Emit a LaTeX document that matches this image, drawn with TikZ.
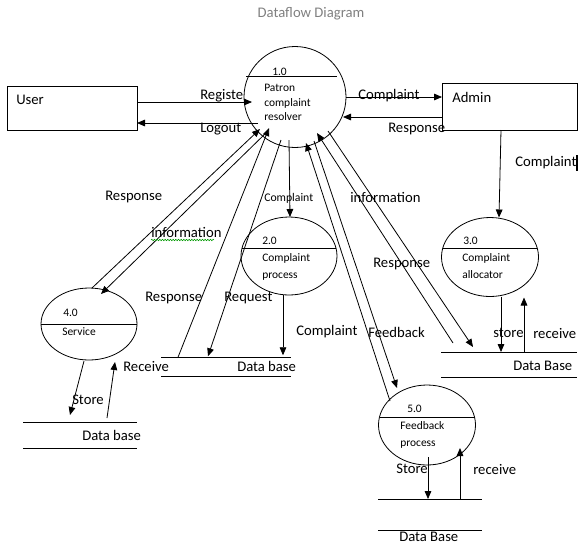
\documentclass[tikz,border=0pt]{standalone}
\usepackage{fontspec}
\setmainfont{Carlito}
\usepackage{xcolor}
\usepackage{tikz}
\usetikzlibrary{calc}
\usetikzlibrary{arrows.meta,shapes.geometric,decorations.pathmorphing}
\tikzset{proc/.style={draw, ellipse, line width=0.6pt, inner sep=0pt, outer sep=0pt}}
\tikzset{ent/.style={draw, rectangle, line width=0.6pt, inner sep=0pt, outer sep=0pt}}
\tikzset{dstore/.style={inner sep=0pt, outer sep=0pt}}
\tikzset{flow/.style={line width=0.6pt, -{Triangle[length=6pt,width=5pt]}}}
\tikzset{lab/.style={inner sep=0pt, anchor=west, font=\fontsize{11}{13}\selectfont}}
\tikzset{slab/.style={inner sep=0pt, anchor=west, align=left, font=\fontsize{8.6}{12.75}\selectfont}}

\begin{document}
\begin{tikzpicture}[x=0.75pt, y=-0.75pt]
		\useasboundingbox (0,0) rectangle (582,551);
		\node[inner sep=0pt, text=black!50, font=\fontsize{11}{13}\selectfont] (title) at (311,14) {Dataflow Diagram};
		
		% external entities
		\node[ent, minimum width=97.5pt, minimum height=33pt] (user) at (72,108) {};
		\node[ent, minimum width=101.25pt, minimum height=35.25pt] (admin) at (509.5,106.5) {};
		\node[lab] (luser) at (16,100) {User};
		\node[lab] (ladmin) at (452,97) {Admin};
		
		% processes
		\node[proc, minimum width=76.5pt, minimum height=75.75pt] (p1) at (295,97) {};
		\node[proc, minimum width=72pt, minimum height=58.5pt] (p2) at (289,256) {};
		\node[proc, minimum width=72.75pt, minimum height=59.25pt] (p3) at (490,257) {};
		\node[proc, minimum width=72pt, minimum height=54pt] (p4) at (89,324) {};
		\node[proc, minimum width=72.75pt, minimum height=60pt] (p5) at (427,425) {};
		\draw[line width=0.6pt] ($(p1.center)+(-49,-21)$) --++(91,0) ($(p2.center)+(-47,-8)$) --++(94,0) ($(p3.center)+(-47,-9)$) --++(94,0) (p4.west) -- (p4.east) ($(p5.center)+(-47.5,-8)$) --++(95,0);
		\node[slab] (n1) at (272,72) {1.0};
		\node[slab, font=\fontsize{8.6}{10.9}\selectfont] (t1) at (264,102.5) {Patron\\complaint\\resolver};
		\node[slab] (n2) at (262,241) {2.0};
		\node[slab] (t2) at (262,266.5) {Complaint\\process};
		\node[slab] (n3) at (463,241) {3.0};
		\node[slab] (t3) at (462,266.5) {Complaint\\allocator};
		\node[slab] (n4) at (63,313) {4.0};
		\node[slab] (t4) at (62,332) {Service};
		\node[slab] (n5) at (407,409) {5.0};
		\node[slab] (t5) at (400,434.5) {Feedback\\process};
		
		% data stores
		\node[dstore, minimum width=97.5pt, minimum height=14.6pt] (ds2) at (226,367) {};
		\node[dstore, minimum width=102pt, minimum height=18.75pt] (ds3) at (509,364.5) {};
		\node[dstore, minimum width=85.5pt, minimum height=19.5pt] (ds4) at (80,435) {};
		\node[dstore, minimum width=78pt, minimum height=23.25pt] (ds5) at (430,514.5) {};
		\draw[line width=0.6pt] (ds2.north west) -- (ds2.north east) (ds2.south west) -- (ds2.south east) (ds3.north west) -- (ds3.north east) (ds3.south west) -- (ds3.south east) (ds4.north west) -- (ds4.north east) (ds4.south west) -- (ds4.south east) (ds5.north west) -- (ds5.north east) (ds5.south west) -- (ds5.south east);
		\node[lab] (lds2) at (237,366) {Data base};
		\node[lab] (lds3) at (513,366) {Data Base};
		\node[lab] (lds4) at (82,435) {Data base};
		\node[lab] (lds5) at (399,537) {Data Base};
		
		% flows between user, admin and 1.0
		\draw[flow] ($(user.east)+(0,-6)$) -- ($(p1.center)+(-43,5)$);
		\draw[flow] ($(p1.center)+(-37,26)$) -- ($(user.east)+(0,15)$);
		\draw[flow] (p1.east) -- ($(admin.west)+(0,-9.5)$);
		\draw[flow] ($(admin.west)+(0,10.5)$) -- ($(p1.center)+(48,20)$);
		\draw[flow] ($(admin.south)+(-8.5,0)$) -- ($(p3.north)+(9,0)$);
		\node[lab] (lreg) at (200,96) {Registe};
		\node[lab] (llog) at (200,129) {Logout};
		\node[lab] (lcadm) at (358,96) {Complaint};
		\node[lab] (lradm) at (388,129) {Response};
		\node[lab] (lcal) at (515,163) {Complaint};
		\draw[line width=1.2pt] (577,155) -- (577,171);
		
		% flows to and from 2.0 and 4.0
		\draw[flow] ($(p1.center)+(-6,43)$) -- ($(p2.north)+(1,0)$);
		\draw[flow] ($(p2.south)+(-6,0)$) -- ($(ds2.north west)+(122,-2)$);
		\draw[flow] ($(ds2.north west)+(17,0)$) -- ($(p1.center)+(-26,31)$);
		\draw[flow] ($(p1.center)+(-14,43)$) -- ($(ds2.north west)+(47,-1)$);
		\draw[flow] ($(p4.center)+(3,-36)$) -- ($(p1.center)+(-35,32)$);
		\draw[flow] ($(p1.center)+(-27,34)$) -- ($(p4.center)+(12,-30)$);
		\draw[flow] ($(p4.center)+(-5,37)$) -- ($(ds4.north west)+(47,-7)$);
		\draw[flow] ($(ds4.north west)+(84,-4)$) -- ($(p4.center)+(26,38)$);
		\node[slab, font=\fontsize{8.8}{10}\selectfont] (lc2) at (264,198) {Complaint};
		\node[lab] (lreq) at (224,298) {Request};
		\node[lab] (lr2) at (145,298) {Response};
		\node[lab] (lr4) at (105,197) {Response};
		\node[lab] (li4) at (151,232) {information};
		\draw[green!60!black, line width=0.4pt, decorate, decoration={snake, amplitude=0.6pt, segment length=2pt}] (151,240) -- (214,240);
		\node[lab] (ls4) at (72,400) {Store};
		\node[lab] (lrc4) at (123,366) {Receive};
		
		% flows to and from 3.0 and 5.0
		\draw[flow] ($(p3.south)+(11,0)$) -- ($(ds3.north west)+(60,0)$);
		\draw[flow] ($(ds3.north west)+(83,0)$) -- ($(p3.south)+(34,1)$);
		\draw[flow] ($(ds3.north west)+(12,-9)$) -- ($(p1.center)+(22,36)$);
		\draw[flow] ($(p1.center)+(33,34)$) -- ($(ds3.north west)+(32,-5)$);
		\draw[flow] ($(p5.center)+(-37,-24)$) -- ($(p1.center)+(11,46)$);
		\draw[flow] ($(p1.center)+(19,44)$) -- ($(p5.center)+(-30,-37)$);
		\draw[flow] ($(p5.center)+(1,32)$) -- ($(ds5.north west)+(50,0)$);
		\draw[flow] ($(ds5.north west)+(82,0)$) -- ($(p5.center)+(33,23)$);
		\node[lab] (ls3) at (493,333) {store};
		\node[lab] (lrc3) at (533,333) {receive};
		\node[lab] (li3) at (350,197) {information};
		\node[lab] (lr3) at (373,264) {Response};
		\node[lab] (lc5) at (296,332) {Complaint};
		\node[lab] (lf5) at (368,332) {Feedback};
		\node[lab] (ls5) at (396,469) {Store};
		\node[lab] (lrc5) at (473,469) {receive};
	\end{tikzpicture}
\end{document}
